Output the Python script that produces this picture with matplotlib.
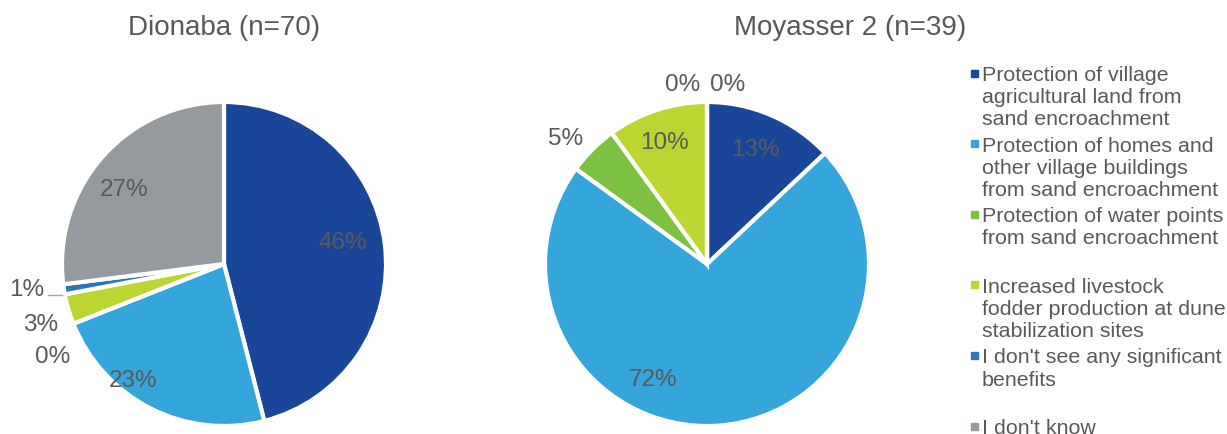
import numpy as np
import matplotlib.pyplot as plt
from matplotlib.patches import Rectangle

plt.rcParams['font.family'] = ['Liberation Sans', 'DejaVu Sans']

W, H = 1227, 435
R = 162.0  # pie radius in pixels

categories = [
    "Protection of village\nagricultural land from\nsand encroachment",
    "Protection of homes and\nother village buildings\nfrom sand encroachment",
    "Protection of water points\nfrom sand encroachment",
    "Increased livestock\nfodder production at dune\nstabilization sites",
    "I don't see any significant\nbenefits",
    "I don't know",
]
colors = ['#1a4699', '#34a6dc', '#7dc142', '#bcd530', '#2e75b6', '#959a9e']

dionaba = [46, 23, 0, 3, 1, 27]
moyasser = [13, 72, 5, 10, 0, 0]

# label positions (pixels in the picture), Excel "best fit" style
dionaba_lbl = [(343, 243), (133, 381), (53, 357), (41, 325), (27, 290), (124, 190)]
moyasser_lbl = [(755, 150), (653, 380), (566, 139), (665, 143), (683, 85), (728, 85)]

txt = '#595959'
fig = plt.figure(figsize=(W / 100, H / 100), dpi=100)


def draw(cx, cy, vals, lbls, s=215):
    ax = fig.add_axes([(cx - s) / W, (H - cy - s) / H, 2 * s / W, 2 * s / H])
    ax.pie(vals, colors=colors, startangle=90, counterclock=False, radius=1,
           wedgeprops=dict(edgecolor='white', linewidth=3))
    # pie() resets the limits, so set them afterwards
    ax.set_xlim(-s / R, s / R)
    ax.set_ylim(-s / R, s / R)
    ax.set_aspect('equal')
    ax.axis('off')
    for v, (px, py) in zip(vals, lbls):
        ax.text((px - cx) / R, (cy - py) / R, f"{v}%", ha='center', va='center',
                fontsize=17.5, color=txt)
    return ax


ax1 = draw(224, 265, dionaba, dionaba_lbl)
ax1.plot([(48 - 224) / R, (62 - 224) / R], [(265 - 296) / R] * 2, color='#a6a6a6', lw=1)
ax2 = draw(707, 265, moyasser, moyasser_lbl)

fig.text(224 / W, 1 - 28 / H, "Dionaba (n=70)", ha='center', va='center', fontsize=20, color=txt)
fig.text(850 / W, 1 - 28 / H, "Moyasser 2 (n=39)", ha='center', va='center', fontsize=20, color=txt)

# legend, one slot of three lines per entry
for i, (lab, c) in enumerate(zip(categories, colors)):
    y = 74 + i * 70.6
    fig.patches.append(Rectangle((971 / W, 1 - (y + 3.5) / H), 7 / W, 7 / H,
                                 transform=fig.transFigure, color=c))
    fig.text(982 / W, 1 - (y - 8) / H, lab, ha='left', va='top', fontsize=15.4,
             color=txt, linespacing=1.21)

fig.savefig('out.png', dpi=100)
